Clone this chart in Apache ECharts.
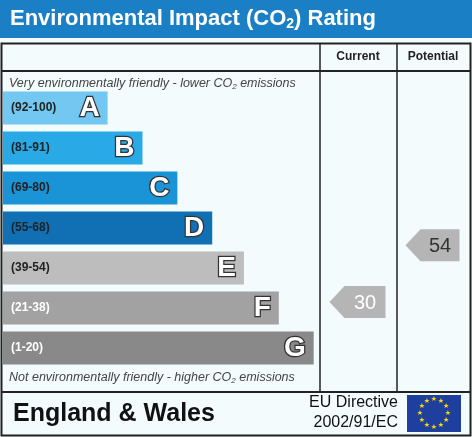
<!DOCTYPE html>
<html><head><meta charset="utf-8">
<script src="https://cdn.jsdelivr.net/npm/echarts@6/dist/echarts.min.js"></script>
<style>html,body{margin:0;padding:0;background:#fff}#c{width:472px;height:437px}</style>
</head><body><div id="c"></div>
<script>
var bands = ['A','B','C','D','E','F','G'];
var ranges = ['(92-100)','(81-91)','(69-80)','(55-68)','(39-54)','(21-38)','(1-20)'];
var barLengths = [33,44,55,66,76,87,98];
var bandColors = ['#72c8f1','#29a9e6','#1a94d6','#1170b4','#bdbdbd','#a2a2a2','#898989'];
var rangeTextColors = ['#222','#222','#222','#222','#222','#fff','#fff'];
var columns = ['Current','Potential'];
var ratings = [30, 54];
var ratingBandPos = [4.85, 3.43];
var ratingTextColors = ['#fff','#333'];

var chart = echarts.init(document.getElementById('c'));
var F = 'Liberation Sans, Arial, sans-serif';
function arrow(params, api){
  var p = api.coord([api.value(0), api.value(1)]);
  var w = params.dataIndex===0 ? 56 : 54, h = 32, t = 15;
  var x0 = p[0]-w/2, y0 = p[1]-h/2;
  return {type:'group',children:[
    {type:'polygon',shape:{points:[[x0,p[1]],[x0+t,y0],[x0+w,y0],[x0+w,y0+h],[x0+t,y0+h]]},style:{fill:'#b5b5b5'}},
    {type:'text',style:{text:String(ratings[params.dataIndex]),x:x0+t+(w-t)/2,y:p[1]+1,align:'center',verticalAlign:'middle',font:'20px '+F,fill:ratingTextColors[params.dataIndex]}}
  ]};
}
var stars=[];
for(var i=0;i<12;i++){var a=i*Math.PI/6;stars.push({type:'text',style:{text:'★',x:434+14*Math.cos(a),y:413+14*Math.sin(a),align:'center',verticalAlign:'middle',font:'7px DejaVu Sans',fill:'#ffdd00'}});}
chart.setOption({
  animation:false,
  backgroundColor:'#f3fbfd',
  grid:[{left:3,top:88,width:317,height:280},{left:320,top:88,width:150,height:280}],
  xAxis:[{type:'value',min:0,max:100,show:false,gridIndex:0},{type:'category',data:columns,show:false,gridIndex:1}],
  yAxis:[{type:'category',data:bands,inverse:true,show:false,gridIndex:0},{type:'value',min:-0.5,max:6.5,inverse:true,show:false,gridIndex:1}],
  series:[
    {type:'bar',xAxisIndex:0,yAxisIndex:0,barCategoryGap:'17%',
     data:barLengths.map(function(v,i){return {value:v,itemStyle:{color:bandColors[i]}};}),
     label:{show:true,position:'insideRight',distance:8,formatter:function(p){return bands[p.dataIndex];},
       fontFamily:F,fontWeight:'bold',fontSize:28,color:'#fff',textBorderColor:'#333',textBorderWidth:2.5}},
    {type:'bar',xAxisIndex:0,yAxisIndex:0,barGap:'-100%',barCategoryGap:'17%',
     data:barLengths.map(function(v,i){return {value:v,itemStyle:{color:'rgba(0,0,0,0)'},label:{color:rangeTextColors[i]}};}),
     label:{show:true,position:'insideLeft',distance:8,formatter:function(p){return ranges[p.dataIndex];},fontFamily:F,fontWeight:'bold',fontSize:12}},
    {type:'custom',xAxisIndex:1,yAxisIndex:1,renderItem:arrow,
     data:ratings.map(function(r,i){return [i, ratingBandPos[i]];})}
  ],
  graphic:[
    {type:'rect',shape:{x:0,y:0,width:472,height:38},style:{fill:'#1b7fc6'},z:-1},
    {type:'text',style:{x:10,y:19,verticalAlign:'middle',text:'{a|Environmental Impact (CO}{s|2}{a|) Rating}',
      rich:{a:{font:'bold 22px '+F,fill:'#fff'},s:{font:'bold 14px '+F,fill:'#fff',padding:[10,0,0,0]}}}},
    {type:'rect',shape:{x:1.5,y:43.5,width:469,height:392},style:{fill:'none',stroke:'#222',lineWidth:2}},
    {type:'line',shape:{x1:1,y1:71,x2:471,y2:71},style:{stroke:'#222',lineWidth:2}},
    {type:'line',shape:{x1:1,y1:392,x2:471,y2:392},style:{stroke:'#222',lineWidth:2}},
    {type:'line',shape:{x1:320,y1:43,x2:320,y2:392},style:{stroke:'#222',lineWidth:1.5}},
    {type:'line',shape:{x1:397,y1:43,x2:397,y2:392},style:{stroke:'#222',lineWidth:1.5}},
    {type:'text',style:{x:358,y:57,align:'center',verticalAlign:'middle',text:'Current',font:'bold 12px '+F,fill:'#222'}},
    {type:'text',style:{x:433,y:57,align:'center',verticalAlign:'middle',text:'Potential',font:'bold 12px '+F,fill:'#222'}},
    {type:'text',style:{x:9,y:84,verticalAlign:'middle',text:'{a|Very environmentally friendly - lower CO}{s|2}{a| emissions}',
      rich:{a:{font:'italic 12.5px '+F,fill:'#444'},s:{font:'italic 8px '+F,fill:'#444',padding:[6,0,0,0]}}}},
    {type:'text',style:{x:9,y:378,verticalAlign:'middle',text:'{a|Not environmentally friendly - higher CO}{s|2}{a| emissions}',
      rich:{a:{font:'italic 12.5px '+F,fill:'#444'},s:{font:'italic 8px '+F,fill:'#444',padding:[6,0,0,0]}}}},
    {type:'text',style:{x:13,y:414,verticalAlign:'middle',text:'England & Wales',font:'bold 25px '+F,fill:'#111'}},
    {type:'text',style:{x:398,y:403,align:'right',verticalAlign:'middle',text:'EU Directive',font:'16px '+F,fill:'#111'}},
    {type:'text',style:{x:398,y:423,align:'right',verticalAlign:'middle',text:'2002/91/EC',font:'16px '+F,fill:'#111'}},
    {type:'rect',shape:{x:407,y:395,width:54,height:37},style:{fill:'#1f3f9e'}}
  ].concat(stars)
});
</script></body></html>
